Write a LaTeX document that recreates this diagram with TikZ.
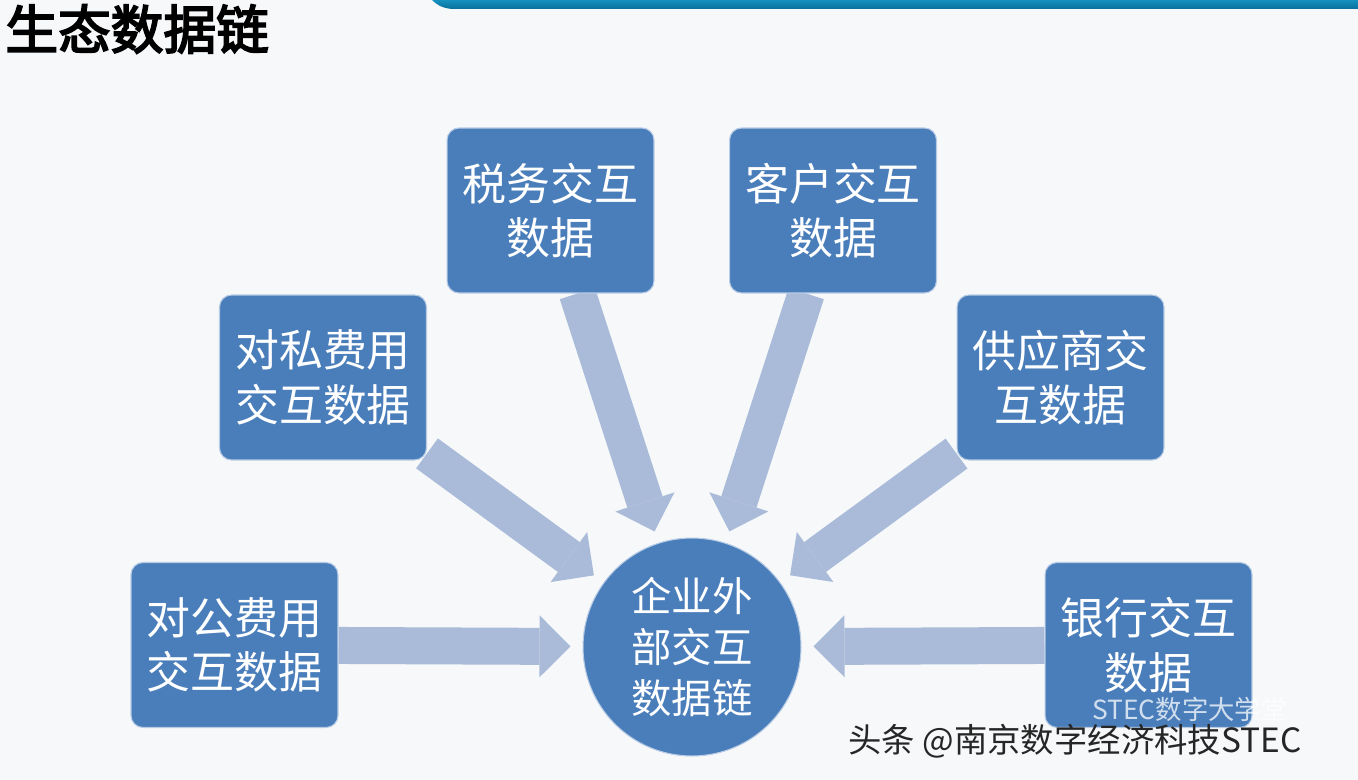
\documentclass[tikz,border=0pt]{standalone}
\usepackage{fontspec}
\setmainfont{Noto Sans CJK SC}
\newfontfamily\titlefont[FakeBold=3.5]{Noto Sans CJK SC}
\usetikzlibrary{arrows.meta,backgrounds}

\definecolor{boxblue}{HTML}{4A7EBB}
\definecolor{flowblue}{HTML}{A9BBD8}
\definecolor{bartop}{HTML}{1591BF}
\definecolor{barbot}{HTML}{0A6E9A}
\definecolor{pagebg}{HTML}{F6F8FA}

\begin{document}
\begin{tikzpicture}[
  x=0.02cm,y=-0.02cm,
  box/.style={draw=white!60!boxblue,line width=0.6pt,fill=boxblue,rounded corners=0.24cm,
    minimum width=4.14cm,minimum height=3.3cm,inner sep=0pt,align=center,text=white,
    font=\fontsize{25}{31}\selectfont,execute at begin node={\rule{0pt}{32pt}}},
  hub/.style={circle,draw=white!60!boxblue,line width=0.6pt,fill=boxblue,minimum size=4.36cm,
    inner sep=0pt,align=center,text=white,font=\fontsize{23}{29}\selectfont,
    execute at begin node={\rule{0pt}{31pt}}},
  flow/.style={draw=flowblue,line width=0.74cm,shorten >=0.24cm,
    -{Triangle[length=0.62cm,width=1.24cm,line width=0pt]}}
]
  \useasboundingbox (0,0) rectangle (1358,780);

  % heading strip and title
  \shade[top color=bartop,bottom color=barbot] (432,0) -- (1358,0) -- (1358,9) -- (452,9)
    .. controls (441,8) and (436,4) .. (432,0);
  \node[anchor=west,inner sep=0pt,font=\titlefont\fontsize{30}{30}\selectfont] (title) at (5,29) {生态数据链};

  % sources
  \node[box] (tax) at (550.5,210.5) {税务交互\\数据};
  \node[box] (cust) at (833,210.5) {客户交互\\数据};
  \node[box] (priv) at (323,377.5) {对私费用\\交互数据};
  \node[box] (supp) at (1060.5,377.5) {供应商交\\互数据};
  \node[box] (corp) at (234.5,645) {对公费用\\交互数据};
  \node[box] (bank) at (1148.5,645) {银行交互\\数据};

  % centre
  \node[hub] (hub) at (692,647) {企业外\\部交互\\数据链};

  \begin{pgfonlayer}{background}
    \fill[pagebg] (0,0) rectangle (1358,780);
    \foreach \src in {tax,cust,priv,supp,corp,bank}
      \draw[flow] (\src) -- (hub);
  \end{pgfonlayer}

  % watermarks
  \node[text=white,opacity=0.75,font=\fontsize{15}{15}\selectfont] (wm) at (1190,709) {STEC数字大学堂};
  \node[anchor=west,inner sep=0pt,text=black!85,font=\fontsize{19}{19}\selectfont] (mark) at (848,741) {头条 @南京数字经济科技STEC};
\end{tikzpicture}
\end{document}
